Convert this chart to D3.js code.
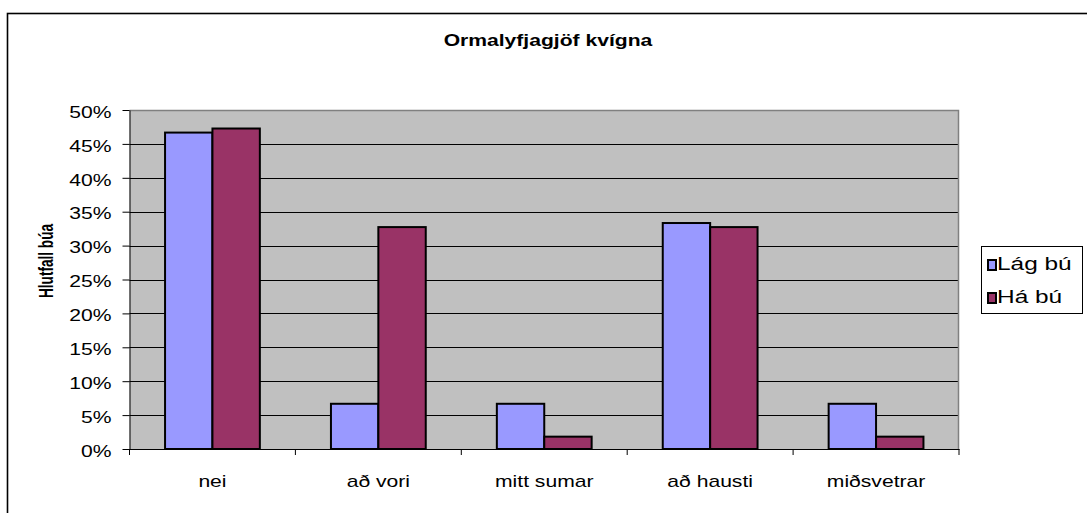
<!DOCTYPE html>
<html>
<head>
<meta charset="utf-8">
<script src="https://cdn.jsdelivr.net/npm/d3@7"></script>
<style>
  body { margin: 0; background: #fff; }
  svg text { font-family: Arial, "Liberation Sans", sans-serif; fill: #000; }
</style>
</head>
<body>
<svg id="chart"></svg>
<script>
// chart data
const categories = ["nei", "að vori", "mitt sumar", "að hausti", "miðsvetrar"];
const seriesNames = ["Lág bú", "Há bú"];
const lagBu = [0.4667, 0.0667, 0.0667, 0.3333, 0.0667];
const haBu = [0.4727, 0.3273, 0.0182, 0.3273, 0.0182];
const yTicks = [0, 0.05, 0.1, 0.15, 0.2, 0.25, 0.3, 0.35, 0.4, 0.45, 0.5];
const colors = ["#9999FF", "#993366"];

const width = 1087;
const height = 513;
const sx = 1.32; // the original text is stretched wide
// plot area
const plotLeft = 129.5, plotRight = 959, plotTop = 110, plotBottom = 449;

const svg = d3.select("#chart").attr("width", width).attr("height", height);

// stretch text horizontally around its x anchor
const stretch = (sel) => {
  sel.attr("transform", function () {
    const x = +this.getAttribute("x") || 0;
    return "translate(" + x * (1 - sx) + ",0) scale(" + sx + ",1)";
  });
};

// outer chart border
svg.append("rect")
  .attr("x", 7.5).attr("y", 13.5)
  .attr("width", 1085).attr("height", 520)
  .attr("fill", "#fff").attr("stroke", "#000").attr("stroke-width", 1.6);

const xScale = d3.scaleBand().domain(categories).range([plotLeft, plotRight]);
const xSub = d3.scaleBand().domain(seriesNames)
  .range([0, xScale.bandwidth()]).paddingOuter(0.75).paddingInner(0);
const yScale = d3.scaleLinear().domain([0, 0.5]).range([plotBottom, plotTop]);

// plot background
svg.append("rect")
  .attr("x", plotLeft).attr("y", plotTop)
  .attr("width", plotRight - plotLeft).attr("height", plotBottom - plotTop)
  .attr("fill", "#C0C0C0");

// gridlines
svg.append("g")
  .selectAll("line")
  .data(yTicks.slice(1, -1))
  .enter()
  .append("line")
  .attr("x1", plotLeft).attr("x2", plotRight)
  .attr("y1", (d) => Math.round(yScale(d)) + 0.5)
  .attr("y2", (d) => Math.round(yScale(d)) + 0.5)
  .attr("stroke", "#000").attr("stroke-width", 1);

// plot border top and right (gray)
svg.append("path")
  .attr("d", `M${plotLeft},${plotTop + 0.5}H${plotRight - 0.5}V${plotBottom}`)
  .attr("fill", "none").attr("stroke", "#808080").attr("stroke-width", 1.5);

// bars
const data = categories.map((c, i) => ({ cat: c, values: [lagBu[i], haBu[i]] }));
const groups = svg.append("g").selectAll("g")
  .data(data).enter().append("g")
  .attr("transform", (d) => "translate(" + xScale(d.cat) + ",0)");

groups.selectAll("rect")
  .data((d) => d.values.map((v, j) => ({ name: seriesNames[j], v: v, j: j })))
  .enter()
  .append("rect")
  .attr("x", (d) => xSub(d.name))
  .attr("y", (d) => yScale(d.v))
  .attr("width", xSub.bandwidth())
  .attr("height", (d) => plotBottom - yScale(d.v))
  .attr("fill", (d) => colors[d.j])
  .attr("stroke", "#000").attr("stroke-width", 2);

// axes
const yAxis = d3.axisLeft(yScale).tickValues(yTicks)
  .tickFormat(d3.format(".0%")).tickSize(7).tickSizeOuter(0).tickPadding(11);
const gy = svg.append("g")
  .attr("transform", "translate(" + plotLeft + ",0)")
  .call(yAxis);
gy.selectAll("text").style("font-size", "16px").attr("dy", "0.45em").call(stretch);
gy.select(".domain").attr("stroke", "#000");

const xAxis = d3.axisBottom(xScale).tickSize(0).tickSizeOuter(0).tickPadding(0);
const gx = svg.append("g")
  .attr("transform", "translate(0," + plotBottom + ")")
  .call(xAxis);
gx.select(".domain").attr("stroke", "#000");
gx.selectAll("text").style("font-size", "16px").attr("dy", null).attr("y", 38).call(stretch);

// category separator ticks on x axis
svg.append("g").selectAll("line")
  .data(categories.map((c) => xScale(c)).concat([plotRight]))
  .enter().append("line")
  .attr("x1", (d) => d).attr("x2", (d) => d)
  .attr("y1", plotBottom).attr("y2", plotBottom + 6)
  .attr("stroke", "#000").attr("stroke-width", 1);

// title
svg.append("text")
  .attr("x", 548).attr("y", 46)
  .attr("text-anchor", "middle")
  .style("font-size", "16px").style("font-weight", "bold")
  .text("Ormalyfjagjöf kvígna")
  .call(stretch);

// y label
svg.append("text")
  .attr("transform", "translate(53,261) scale(1.3,0.85) rotate(-90)")
  .attr("text-anchor", "middle")
  .style("font-size", "16px").style("font-weight", "bold")
  .text("Hlutfall búa");

// legend
const legend = svg.append("g");
legend.append("rect")
  .attr("x", 981.5).attr("y", 246.5).attr("width", 101).attr("height", 67)
  .attr("fill", "#fff").attr("stroke", "#000").attr("stroke-width", 1);
const items = legend.selectAll("g.item")
  .data(seriesNames).enter().append("g")
  .attr("class", "item")
  .attr("transform", (d, i) => "translate(0," + (i * 33) + ")");
items.append("rect")
  .attr("x", 988).attr("y", 260).attr("width", 8).attr("height", 10)
  .attr("fill", (d, i) => colors[i]).attr("stroke", "#000").attr("stroke-width", 2);
items.append("text")
  .attr("x", 997).attr("y", 270)
  .style("font-size", "18.5px")
  .text((d) => d)
  .call(stretch);
</script>
</body>
</html>
